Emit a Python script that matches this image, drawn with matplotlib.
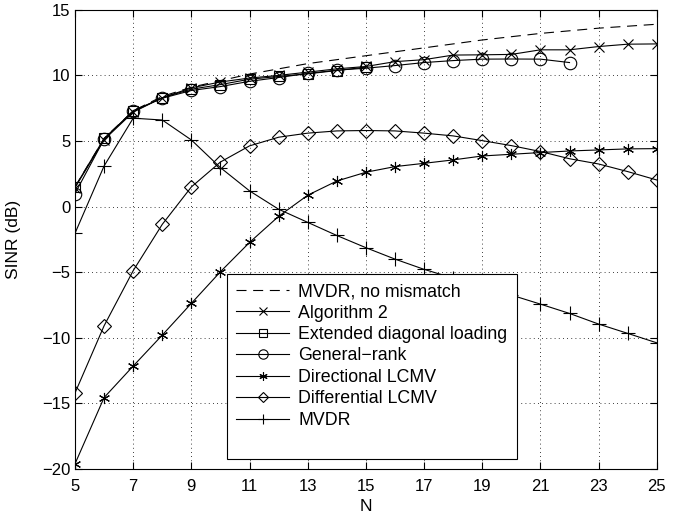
"""SINR versus number of sensors N."""

import matplotlib

matplotlib.use("Agg")
import matplotlib.pyplot as plt
import numpy as np

plt.rcParams["font.family"] = ["Liberation Sans", "DejaVu Sans"]

n_all = list(range(5, 26))
n_edl = list(range(5, 16))
n_gr = list(range(5, 23))

mvdr_ideal = [1.5, 5.2, 7.3, 8.4, 9.1, 9.6, 10.1, 10.5, 10.9, 11.2, 11.5,
              11.8, 12.1, 12.4, 12.7, 12.95, 13.2, 13.4, 13.6, 13.75, 13.9]
alg2 = [1.45, 5.1, 7.2, 8.3, 9.05, 9.5, 9.8, 10.0, 10.25, 10.5, 10.68,
        11.05, 11.2, 11.55, 11.57, 11.6, 11.95, 11.95, 12.2, 12.38, 12.4]
edl = [1.5, 5.2, 7.25, 8.3, 8.95, 9.3, 9.71, 9.92, 10.12, 10.37, 10.63]
gen_rank = [1.0, 5.14, 7.32, 8.26, 8.85, 9.15, 9.55, 9.84, 10.15, 10.4, 10.55,
            10.75, 10.98, 11.13, 11.24, 11.25, 11.24, 10.98]
dir_lcmv = [-19.6, -14.55, -12.15, -9.79, -7.37, -4.96, -2.73, -0.74, 0.87, 1.95,
            2.62, 3.05, 3.3, 3.56, 3.86, 3.99, 4.12, 4.24, 4.32, 4.4, 4.42]
diff_lcmv = [-14.2, -9.08, -4.88, -1.35, 1.5, 3.4, 4.63, 5.29, 5.6, 5.77, 5.8,
             5.77, 5.6, 5.39, 5.03, 4.65, 4.2, 3.65, 3.25, 2.67, 2.03]
mvdr = [-2.03, 3.1, 6.74, 6.6, 5.08, 2.97, 1.2, -0.2, -1.2, -2.2, -3.13,
        -4.0, -4.78, -5.45, -6.1, -6.74, -7.43, -8.14, -8.95, -9.66, -10.38]

fig = plt.figure(figsize=(6.82, 5.16), dpi=100)
ax = fig.add_axes([0.110, 0.091, 0.853, 0.890])

kw = dict(color="black", linewidth=0.8, markerfacecolor="none", markeredgewidth=0.8)
ax.plot(n_all, mvdr_ideal, linestyle="--", dashes=(9, 6), label="MVDR, no mismatch", **kw)
ax.plot(n_all, alg2, marker="x", markersize=7, label="Algorithm 2", **kw)
ax.plot(n_edl, edl, marker="s", markersize=7, label="Extended diagonal loading", **kw)
ax.plot(n_gr, gen_rank, marker="o", markersize=9, label="General\u2212rank", **kw)
ax.plot(n_all, dir_lcmv, marker=(6, 2, 0), markersize=8, label="Directional LCMV", **kw)
ax.plot(n_all, diff_lcmv, marker="D", markersize=7, label="Differential LCMV", **kw)
ax.plot(n_all, mvdr, marker="+", markersize=10, label="MVDR", **kw)
# matlab legends leave an empty slot at the bottom
ax.plot([], [], color="none", label=" ")

ax.set_xlim(5, 25)
ax.set_ylim(-20, 15)
ax.set_xticks(np.arange(5, 26, 2))
ax.set_yticks(np.arange(-20, 16, 5))
ax.tick_params(direction="in", top=True, right=True, length=5, labelsize=12)
ax.tick_params(axis="x", pad=7)
ax.grid(True, color="black", linestyle=(0, (1, 4)), linewidth=0.6)
for s in ax.spines.values():
    s.set_linewidth(0.8)
ax.set_xlabel("N", fontsize=12.5, labelpad=4)
ax.set_ylabel("SINR (dB)", fontsize=12.5)
ax.yaxis.set_label_coords(-0.093, 0.5)

leg = ax.legend(loc="upper left", bbox_to_anchor=(0.261, 0.425), fontsize=12.8,
                handlelength=3.0, handletextpad=0.5, labelspacing=0.25,
                borderpad=0.52, borderaxespad=0, markerscale=0.75,
                fancybox=False, framealpha=1, edgecolor="black")
leg.get_frame().set_linewidth(0.8)

fig.savefig("out.png", dpi=100)
plt.close(fig)
